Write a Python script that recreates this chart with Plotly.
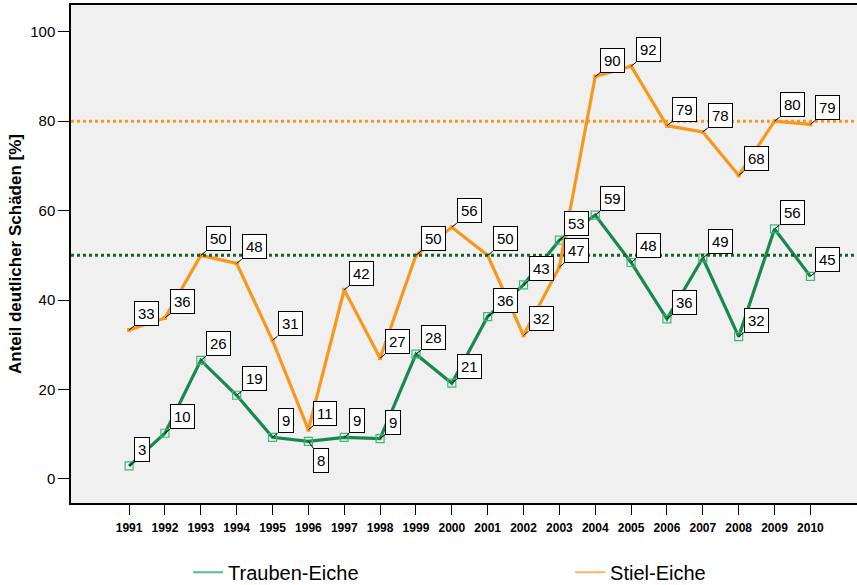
import plotly.graph_objects as go

# Data
years = list(range(1991, 2011))
trauben = [2.9, 10.2, 26.5, 18.7, 9.3, 8.4, 9.3, 9.0, 27.9, 21.4, 36.3, 43.4, 53.4, 59.0, 48.4, 35.8, 49.4, 31.8, 55.9, 45.3]
stiel = [33.3, 36.0, 50.0, 48.2, 31.0, 11.0, 42.3, 27.0, 50.0, 56.3, 50.0, 32.1, 47.4, 90.0, 92.3, 79.0, 77.6, 67.9, 80.0, 79.3]
trauben_ref = 50
stiel_ref = 80

green = "#17894a"
green_mk = "#3cb878"
green_dark = "#1b5e2f"
orange = "#f7981d"
narrow = "Liberation Sans Narrow, Arial Narrow, Liberation Sans"

fig = go.Figure()

fig.add_trace(go.Scatter(
    x=years, y=trauben, mode="lines+markers", showlegend=False,
    line=dict(color=green, width=3.2),
    marker=dict(symbol="square-open", size=8, color=green_mk, line=dict(width=1.2)),
))
fig.add_trace(go.Scatter(
    x=years, y=stiel, mode="lines+markers", showlegend=False,
    line=dict(color=orange, width=3.2),
    marker=dict(symbol="square", size=4, color=orange),
))

# legend-only entries
fig.add_trace(go.Scatter(x=[None], y=[None], mode="lines", name="Trauben-Eiche",
                         line=dict(color="#4fbf82", width=2), legend="legend"))
fig.add_trace(go.Scatter(x=[None], y=[None], mode="lines", name="Stiel-Eiche",
                         line=dict(color="#f9b660", width=2), legend="legend2"))

# reference lines
fig.add_hline(y=stiel_ref, line=dict(color=orange, width=3, dash="dot"))
fig.add_hline(y=trauben_ref, line=dict(color=green_dark, width=3, dash="dot"))

# value labels
def label(x, y, below=False):
    fig.add_annotation(
        x=x, y=y, text=str(round(y)),
        showarrow=True, arrowhead=0, arrowwidth=1, arrowcolor="black",
        ax=5, ay=7 if below else -4, standoff=0,
        xanchor="left", yanchor="top" if below else "bottom",
        bgcolor="white", bordercolor="black", borderwidth=1, borderpad=3,
        font=dict(family="Arial, Liberation Sans", size=15, color="black"),
    )

for x, y in zip(years, stiel):
    label(x, y)
for x, y in zip(years, trauben):
    label(x, y, below=(x == 1996))

legend_style = dict(
    orientation="h", yref="container", y=0.022, xanchor="left", yanchor="middle",
    itemwidth=30, bgcolor="rgba(0,0,0,0)",
    font=dict(family=narrow, size=20),
)

fig.update_layout(
    width=857, height=585,
    margin=dict(l=71, r=0, t=5, b=82),
    paper_bgcolor="white", plot_bgcolor="#f0f0f0",
    font=dict(family="Liberation Sans, Arial", color="black"),
    showlegend=True,
    legend=dict(x=0.149, **legend_style),
    legend2=dict(x=0.635, **legend_style),
    xaxis=dict(
        range=[1989.38, 2011.3], tickmode="array", tickvals=years,
        ticktext=[str(y) for y in years],
        ticks="outside", ticklen=10, tickcolor="black", ticklabelstandoff=3,
        tickfont=dict(family=narrow, size=12, weight="bold"),
        showgrid=False, zeroline=False, automargin=False,
        showline=True, linecolor="black", linewidth=1.5, mirror=True,
    ),
    yaxis=dict(
        range=[-5.4, 106], tickvals=[0, 20, 40, 60, 80, 100],
        ticks="outside", ticklen=11, tickcolor="black",
        tickfont=dict(size=15), automargin=False,
        title=dict(text="Anteil deutlicher Schäden [%]", font=dict(size=17, weight="bold"), standoff=4),
        showgrid=False, zeroline=False,
        showline=True, linecolor="black", linewidth=1.5, mirror=True,
    ),
)

fig.write_html("out.html", config={"displayModeBar": False},
               post_script="document.body.style.margin='0';")
